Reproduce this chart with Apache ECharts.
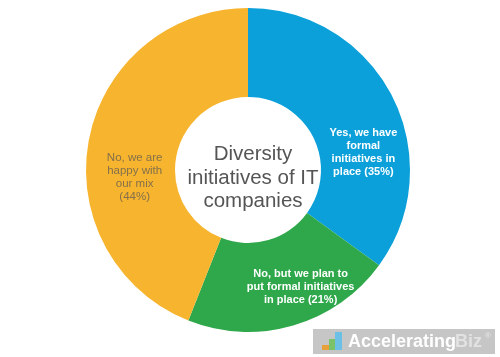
<!DOCTYPE html>
<html>
<head>
<meta charset="utf-8">
<script src="https://cdn.jsdelivr.net/npm/echarts@6/dist/echarts.min.js"></script>
<style>html,body{margin:0;padding:0;background:#fff;}#c{width:500px;height:357px;}</style>
</head>
<body>
<div id="c"></div>
<script>
var categories = ['Yes, we have\nformal\ninitiatives in\nplace (35%)', 'No, but we plan to\nput formal initiatives\nin place (21%)', 'No, we are\nhappy with\nour mix\n(44%)'];
var values = [35, 21, 44];
var colors = ['#0ba0d9', '#2fa84b', '#f6b42f'];
var labelColors = ['#ffffff', '#ffffff', '#85704a'];
var labelWeights = ['bold', 'bold', 'normal'];
var labelSizes = [11, 11, 11.5];
var labelShift = [[8, 37], [19, 1], [5, 30]];
var titleText = 'Diversity\ninitiatives of IT\ncompanies';

var chart = echarts.init(document.getElementById('c'));
chart.setOption({
  animation: false,
  title: {
    text: titleText,
    left: 248,
    top: 138,
    textAlign: 'center',
    textStyle: { fontFamily: 'Liberation Sans, Arial, sans-serif', fontSize: 20.5, fontWeight: 'normal', color: '#555555', lineHeight: 23.5 }
  },
  series: [{
    type: 'pie',
    center: [248, 170],
    radius: [73, 162],
    startAngle: 90,
    clockwise: true,
    silent: true,
    labelLine: { show: false },
    label: {
      show: true,
      position: 'inside',
      fontFamily: 'Liberation Sans, Arial, sans-serif',
      lineHeight: 13,
      align: 'center'
    },
    labelLayout: function (p) {
      return { dx: labelShift[p.dataIndex][0], dy: labelShift[p.dataIndex][1] };
    },
    itemStyle: { borderWidth: 0 },
    data: values.map(function (v, i) {
      return {
        value: v,
        name: categories[i],
        itemStyle: { color: colors[i] },
        label: { color: labelColors[i], fontWeight: labelWeights[i], fontSize: labelSizes[i], formatter: '{b}' }
      };
    })
  }],
  graphic: [
    { type: 'rect', shape: { x: 313, y: 329, width: 182, height: 25 }, style: { fill: '#c6c6c6' } },
    { type: 'rect', shape: { x: 322, y: 345, width: 7, height: 5 }, style: { fill: '#e8a03a' } },
    { type: 'rect', shape: { x: 329, y: 339, width: 6, height: 11 }, style: { fill: '#7bc36b' } },
    { type: 'rect', shape: { x: 335, y: 332, width: 7, height: 18 }, style: { fill: '#6cc0e6' } },
    { type: 'text', style: { x: 348, y: 342, text: 'Accelerating', fill: '#ffffff', font: 'bold 18px Liberation Sans, Arial, sans-serif', textVerticalAlign: 'middle' } },
    { type: 'text', style: { x: 455, y: 342, text: 'Biz', fill: '#e2e2e2', font: 'bold 18px Liberation Sans, Arial, sans-serif', textVerticalAlign: 'middle' } },
    { type: 'text', style: { x: 485, y: 336, text: '®', fill: '#e2e2e2', font: 'bold 8px Liberation Sans, Arial, sans-serif', textVerticalAlign: 'middle' } }
  ]
});
</script>
</body>
</html>
